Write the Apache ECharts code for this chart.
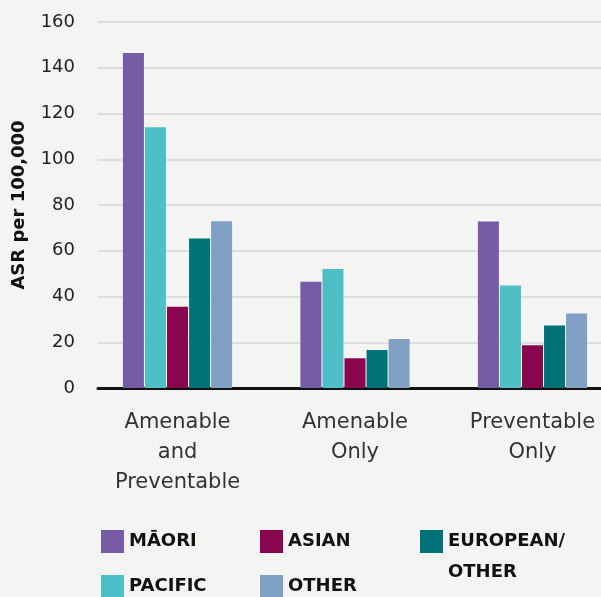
<!DOCTYPE html>
<html>
<head>
<meta charset="utf-8">
<script src="https://cdn.jsdelivr.net/npm/echarts@6/dist/echarts.min.js"></script>
<style>
html,body{margin:0;padding:0;background:#f4f5f2;}
#chart{width:601px;height:597px;}
</style>
</head>
<body>
<div id="chart"></div>
<script>
const categories = ['Amenable\nand\nPreventable', 'Amenable\nOnly', 'Preventable\nOnly'];
const maori = [146.5, 46.5, 72.8];
const pacific = [114, 52, 44.8];
const asian = [35.5, 13, 18.7];
const european = [65.4, 16.6, 27.3];
const other = [72.9, 21.4, 32.6];
const yTicks = [0, 20, 40, 60, 80, 100, 120, 140, 160];

const font = "'DejaVu Sans', 'Noto Sans', sans-serif";
const chart = echarts.init(document.getElementById('chart'));
const pos = categories.map((c, i) => i);
const mk = (name, data, color) => ({
  name, type: 'bar', data: data.map((v, i) => [pos[i], v]), barWidth: 21, barGap: '5%',
  itemStyle: { color }
});
const legendBase = {
  orient: 'vertical', itemWidth: 23, itemHeight: 23, itemGap: 22,
  icon: 'rect', height: 200, padding: 0,
  textStyle: { fontFamily: font, fontWeight: 'bold', fontSize: 18, color: '#111' }
};
chart.setOption({
  backgroundColor: '#f4f5f2',
  animation: false,
  grid: { left: 98, right: 0, top: 22, height: 366 },
  legend: [
    Object.assign({}, legendBase, { left: 101, top: 530, data: ['MĀORI', 'PACIFIC'] }),
    Object.assign({}, legendBase, { left: 260, top: 530, data: ['ASIAN', 'OTHER'] }),
    Object.assign({}, legendBase, { left: 420, top: 495, data: ['EUROPEAN/OTHER'],
      formatter: n => '\nEUROPEAN/\nOTHER',
      textStyle: Object.assign({}, legendBase.textStyle, { lineHeight: 31 }) })
  ],
  xAxis: {
    type: 'value', min: -0.448, max: 2.386,
    splitLine: { show: false },
    axisLine: { lineStyle: { color: '#111', width: 3 } },
    axisTick: { show: false },
    axisLabel: { customValues: pos, formatter: v => categories[Math.round(v)],
      fontFamily: font, fontSize: 21, color: '#333', lineHeight: 30, margin: 20 }
  },
  yAxis: {
    type: 'value', min: yTicks[0], max: yTicks[yTicks.length - 1], interval: 20,
    name: 'ASR per 100,000', nameLocation: 'middle', nameGap: 70, nameRotate: 90,
    nameTextStyle: { fontFamily: font, fontWeight: 'bold', fontSize: 18, color: '#111' },
    axisLine: { show: false, onZero: false }, axisTick: { show: false },
    axisLabel: { fontFamily: font, fontSize: 18, color: '#222', margin: 23, align: 'right' },
    splitLine: { lineStyle: { color: '#d4d4d4', width: 1.5 } }
  },
  series: [
    mk('MĀORI', maori, '#765ba5'),
    mk('PACIFIC', pacific, '#4fbfc7'),
    mk('ASIAN', asian, '#89064f'),
    mk('EUROPEAN/OTHER', european, '#007278'),
    mk('OTHER', other, '#809fc5')
  ]
});
</script>
</body>
</html>
